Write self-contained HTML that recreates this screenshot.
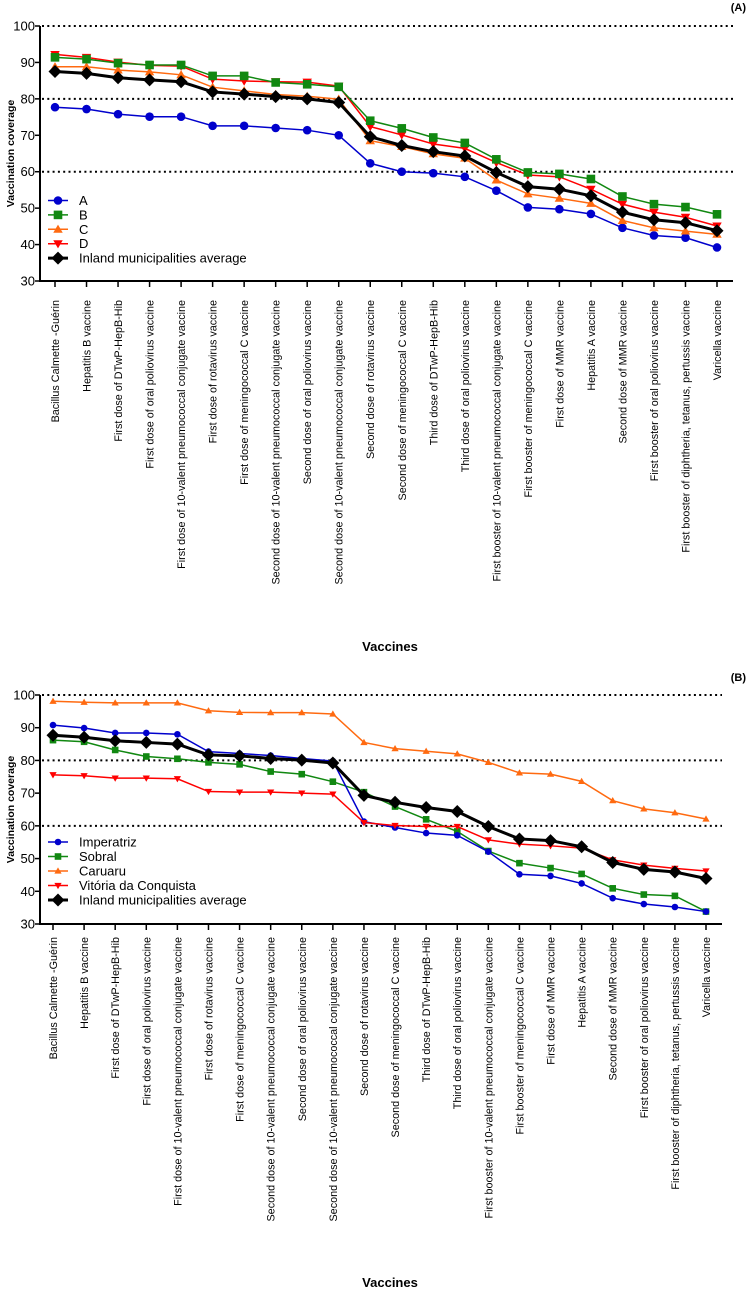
<!DOCTYPE html>
<html><head><meta charset="utf-8"><style>
body{margin:0;background:#fff;}
svg text{font-family:"Liberation Sans",sans-serif;}
</style></head><body>
<svg id="chart" width="750" height="1292" xmlns="http://www.w3.org/2000/svg"></svg>
<script>
const categories=["Bacillus Calmette -Guérin","Hepatitis B vaccine","First dose of DTwP-HepB-Hib","First dose of oral poliovirus vaccine","First dose of 10-valent pneumococcal conjugate vaccine","First dose of rotavirus vaccine","First dose of meningococcal C vaccine","Second dose of 10-valent pneumococcal conjugate vaccine","Second dose of oral poliovirus vaccine","Second dose of 10-valent pneumococcal conjugate vaccine","Second dose of rotavirus vaccine","Second dose of meningococcal C vaccine","Third dose of DTwP-HepB-Hib","Third dose of oral poliovirus vaccine","First booster of 10-valent pneumococcal conjugate vaccine","First booster of meningococcal C vaccine","First dose of MMR vaccine","Hepatitis A vaccine","Second dose of MMR vaccine","First booster of oral poliovirus vaccine","First booster of diphtheria, tetanus, pertussis vaccine","Varicella vaccine"];
const yTicks=[30,40,50,60,70,80,90,100];
const gridLines=[60,80,100];
const aNames=["A","B","C","D","Inland municipalities average"];
const aA=[77.7,77.2,75.8,75.1,75.1,72.6,72.6,72.0,71.4,70.0,62.3,60.0,59.6,58.6,54.8,50.2,49.7,48.4,44.6,42.5,41.9,39.2];
const aB=[91.4,90.9,89.8,89.3,89.3,86.3,86.3,84.5,84.0,83.3,74.0,71.9,69.4,67.9,63.4,59.8,59.4,58.0,53.2,51.1,50.3,48.3];
const aC=[88.8,88.8,87.9,87.4,86.6,83.2,82.2,81.2,80.7,79.9,68.5,66.9,64.9,63.7,57.7,53.9,52.7,51.3,46.6,44.6,43.7,42.8];
const aD=[92.2,91.4,90.1,89.2,89.0,85.4,84.9,84.7,84.6,83.5,72.4,70.1,67.6,66.4,62.5,59.1,58.6,55.2,51.1,48.9,47.5,45.1];
const aAvg=[87.5,87.0,85.8,85.2,84.7,81.9,81.3,80.6,80.0,79.0,69.6,67.2,65.5,64.3,59.8,55.9,55.2,53.4,48.9,46.8,46.0,43.8];
const bNames=["Imperatriz","Sobral","Caruaru","Vitória da Conquista","Inland municipalities average"];
const bImp=[90.8,89.9,88.4,88.4,88.0,82.7,82.1,81.5,80.6,79.8,61.3,59.5,57.8,57.1,52.1,45.2,44.7,42.4,37.9,36.1,35.2,33.8];
const bSob=[86.2,85.7,83.2,81.2,80.5,79.4,78.8,76.6,75.8,73.5,70.3,65.9,62.0,58.3,52.3,48.6,47.1,45.3,40.9,39.0,38.6,33.8];
const bCar=[98.1,97.8,97.6,97.6,97.6,95.2,94.7,94.6,94.6,94.2,85.5,83.6,82.8,82.0,79.4,76.2,75.8,73.6,67.7,65.2,64.0,62.1];
const bVit=[75.6,75.3,74.6,74.6,74.4,70.5,70.3,70.3,70.0,69.7,61.0,60.1,59.8,59.8,55.7,54.4,53.9,53.2,49.6,48.0,47.0,46.2];
const bAvg=[87.7,87.1,86.0,85.5,85.0,81.7,81.4,80.6,80.1,79.2,69.3,67.2,65.6,64.4,59.8,56.0,55.5,53.6,48.8,46.7,45.9,43.9];

const NS="http://www.w3.org/2000/svg";
const svg=document.getElementById('chart');
function mk(tag,attrs,parent){const e=document.createElementNS(NS,tag);for(const k in attrs)e.setAttribute(k,attrs[k]);(parent||svg).appendChild(e);return e;}
const colors=["#0000cc","#118811","#ff6a10","#ff0000","#000000"];
const shapes=["circle","square","up","down","diamond"];

function marker(g,shape,x,y,s,c){
  let e;
  if(shape==="circle")e=mk('circle',{cx:x,cy:y,r:s,fill:c},g);
  else if(shape==="square")e=mk('rect',{x:x-s,y:y-s,width:2*s,height:2*s,fill:c},g);
  else if(shape==="up")e=mk('polygon',{points:`${x},${y-s*1.1} ${x-s*1.1},${y+s*0.8} ${x+s*1.1},${y+s*0.8}`,fill:c},g);
  else if(shape==="down")e=mk('polygon',{points:`${x},${y+s*1.1} ${x-s*1.1},${y-s*0.8} ${x+s*1.1},${y-s*0.8}`,fill:c},g);
  else e=mk('polygon',{points:`${x},${y-s*1.3} ${x+s*1.3},${y} ${x},${y+s*1.3} ${x-s*1.3},${y}`,fill:c},g);
  return e;
}

function panel(cfg){
  const {top,bot,x0,x1,xEnd,gx1,series,names,tag,tagY,labY,titleY,legY,legStep,ms,order}=cfg;
  const g=mk('g',{});
  
  
  const ys=v=>bot-(v-30)*(bot-top)/70;
  const xs=i=>x1+i*(xEnd-x1)/(categories.length-1);
  gridLines.forEach(v=>{const l=mk('line',{x1:x0+2,x2:gx1,y1:ys(v),y2:ys(v),stroke:'#000','stroke-width':2,'stroke-dasharray':'2,3.3'},g);
    });
  const ya=mk('line',{x1:x0,x2:x0,y1:top,y2:bot+1,stroke:'#000','stroke-width':2},g);
  
  const xa=mk('line',{x1:x0-1,x2:gx1,y1:bot,y2:bot,stroke:'#000','stroke-width':2},g);
  
  yTicks.forEach(v=>{mk('line',{x1:x0-5,x2:x0,y1:ys(v),y2:ys(v),stroke:'#000','stroke-width':1.5},g);
    const t=mk('text',{x:x0-5,y:ys(v)+4.5,'text-anchor':'end','font-size':13,fill:'#000'},g);t.textContent=v;
    });
  categories.forEach((c,i)=>{const x=xs(i);
    mk('line',{x1:x,x2:x,y1:bot,y2:bot+6,stroke:'#000','stroke-width':1.5},g);
    const t=mk('text',{x:0,y:0,'text-anchor':'end','font-size':10.8,fill:'#000',transform:`translate(${x+4},${labY}) rotate(-90)`},g);
    t.textContent=c;});
  const yt=mk('text',{x:0,y:0,'text-anchor':'middle','font-size':10.5,'font-weight':'bold',fill:'#000',transform:`translate(14,${(top+bot)/2}) rotate(-90)`},g);
  yt.textContent='Vaccination coverage';
  const xt=mk('text',{x:390,y:titleY,'text-anchor':'middle','font-size':13,'font-weight':'bold',fill:'#000'},g);
  xt.textContent='Vaccines';
  const pt=mk('text',{x:746,y:tagY,'text-anchor':'end','font-size':11,'font-weight':'bold',fill:'#000'},g);
  pt.textContent='('+tag+')';
  order.forEach(k=>{
    const d=series[k];const sg=mk('g',{},g);
    
    
    const pts=d.map((v,i)=>xs(i)+','+ys(v)).join(' ');
    mk('polyline',{points:pts,fill:'none',stroke:colors[k],'stroke-width':k===4?3:1.5},sg);
    d.forEach((v,i)=>{const m=marker(sg,shapes[k],xs(i),ys(v),k===4?5:ms,colors[k]);
      });
  });
  names.forEach((n,k)=>{const y=legY+k*legStep;const lg=mk('g',{},g);
    
    mk('line',{x1:48,x2:68,y1:y,y2:y,stroke:colors[k],'stroke-width':k===4?3:1.5},lg);
    marker(lg,shapes[k],58,y,k===4?5:ms,colors[k]);
    const t=mk('text',{x:79,y:y+4.5,'font-size':13,fill:'#000'},lg);t.textContent=n;});
}
panel({top:26,bot:281,x0:40,x1:55,xEnd:717,gx1:733,series:[aA,aB,aC,aD,aAvg],names:aNames,tag:'A',tagY:11,labY:300,titleY:651,legY:200.5,legStep:14.4,ms:4.3,order:[0,2,3,1,4]});
panel({top:695,bot:924,x0:40,x1:53,xEnd:706,gx1:722,series:[bImp,bSob,bCar,bVit,bAvg],names:bNames,tag:'B',tagY:681,labY:937,titleY:1287,legY:842,legStep:14.5,ms:3.3,order:[2,1,0,3,4]});
</script>
</body></html>
